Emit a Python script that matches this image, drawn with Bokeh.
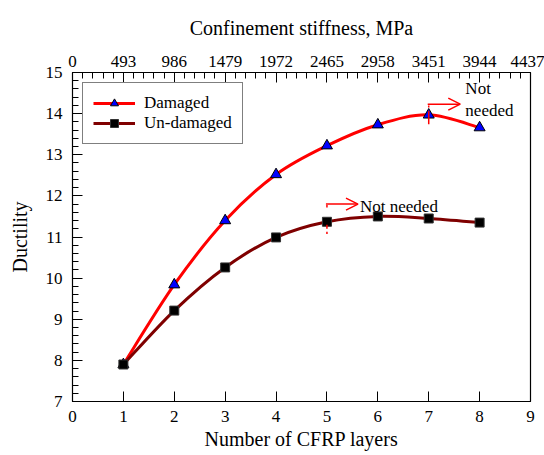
from bokeh.plotting import figure
from bokeh.models import (Range1d, LinearAxis, FixedTicker, Arrow, OpenHead,
                          Legend, LegendItem, ColumnDataSource)
from bokeh.core.properties import value
from bokeh.embed import file_html
from bokeh.resources import INLINE

# ---- data ----
layers = [1, 2, 3, 4, 5, 6, 7, 8]
damaged = [7.9, 9.84, 11.4, 12.52, 13.22, 13.73, 13.97, 13.66]
undamaged = [7.9, 9.21, 10.26, 10.99, 11.37, 11.5, 11.45, 11.35]
bottom_ticks = [0, 1, 2, 3, 4, 5, 6, 7, 8, 9]
top_ticks = [0, 493, 986, 1479, 1972, 2465, 2958, 3451, 3944, 4437]
y_ticks = [7, 8, 9, 10, 11, 12, 13, 14, 15]

FONT = "Liberation Serif"


def bezier_source(xs, ys):
    """Catmull-Rom smoothing rendered as cubic Bezier segments."""
    n = len(xs)
    d = dict(x0=[], y0=[], x1=[], y1=[], cx0=[], cy0=[], cx1=[], cy1=[])
    for i in range(n - 1):
        p0 = (xs[max(i - 1, 0)], ys[max(i - 1, 0)])
        p1 = (xs[i], ys[i])
        p2 = (xs[i + 1], ys[i + 1])
        p3 = (xs[min(i + 2, n - 1)], ys[min(i + 2, n - 1)])
        d["x0"].append(p1[0]); d["y0"].append(p1[1])
        d["x1"].append(p2[0]); d["y1"].append(p2[1])
        d["cx0"].append(p1[0] + (p2[0] - p0[0]) / 6.0)
        d["cy0"].append(p1[1] + (p2[1] - p0[1]) / 6.0)
        d["cx1"].append(p2[0] - (p3[0] - p1[0]) / 6.0)
        d["cy1"].append(p2[1] - (p3[1] - p1[1]) / 6.0)
    return ColumnDataSource(d)


p = figure(width=544, height=455, x_range=Range1d(0, 9), y_range=Range1d(7, 15),
           output_backend="svg", toolbar_location=None,
           x_axis_location=None, y_axis_location=None,
           min_border_left=72, min_border_right=14,
           min_border_top=72, min_border_bottom=54)
p.xgrid.visible = False
p.ygrid.visible = False
p.outline_line_color = "black"
p.outline_line_width = 1.2
p.background_fill_color = "white"
p.border_fill_color = "white"

p.extra_x_ranges = {"top": Range1d(0, 4437)}


def style_axis(ax):
    ax.axis_line_color = "black"
    ax.major_tick_line_color = "black"
    ax.minor_tick_line_color = "black"
    ax.major_tick_out = 0
    ax.minor_tick_out = 0
    ax.major_label_text_font = FONT
    ax.major_label_text_font_size = "17px"
    ax.major_label_text_color = "black"
    ax.axis_label_text_font = FONT
    ax.axis_label_text_font_size = "20px"
    ax.axis_label_text_font_style = "normal"
    ax.axis_label_text_color = "black"


bx = LinearAxis(ticker=FixedTicker(ticks=bottom_ticks), axis_label="Number of CFRP layers")
style_axis(bx)
bx.major_tick_in = 10
bx.minor_tick_in = 0
bx.major_label_standoff = 9
bx.axis_label_standoff = 3
p.add_layout(bx, "below")

top_minor = [t + k * 493 / 5 for t in top_ticks[:-1] for k in range(1, 5)]
tx = LinearAxis(x_range_name="top", ticker=FixedTicker(ticks=top_ticks, minor_ticks=top_minor),
                axis_label="Confinement stiffness, MPa")
style_axis(tx)
tx.major_tick_in = 10
tx.minor_tick_in = 6
tx.major_label_standoff = 6
tx.axis_label_standoff = 14
p.add_layout(tx, "above")

y_minor = [t + k * 0.2 for t in y_ticks[:-1] for k in range(1, 5)]
ly = LinearAxis(ticker=FixedTicker(ticks=y_ticks, minor_ticks=y_minor), axis_label="Ductility")
style_axis(ly)
ly.major_tick_in = 10
ly.minor_tick_in = 6
ly.major_label_standoff = 10
ly.axis_label_standoff = 12
p.add_layout(ly, "left")

# ---- curves ----
src_d = bezier_source(layers, damaged)
src_u = bezier_source(layers, undamaged)
cd = p.bezier(x0="x0", y0="y0", x1="x1", y1="y1", cx0="cx0", cy0="cy0", cx1="cx1", cy1="cy1",
              source=src_d, line_color="#ff0000", line_width=3)
cu = p.bezier(x0="x0", y0="y0", x1="x1", y1="y1", cx0="cx0", cy0="cy0", cx1="cx1", cy1="cy1",
              source=src_u, line_color="#7f0000", line_width=3)
md = p.scatter(layers, damaged, marker="triangle", size=11, fill_color="#0000ff",
               line_color="black", line_width=1)
mu = p.scatter(layers, undamaged, marker="square", size=9, fill_color="black",
               line_color="#333333", line_width=1)

# ---- annotations ----
p.add_layout(Arrow(end=OpenHead(size=12, line_color="#ff0000", line_width=1.5),
                   x_start=6.98, y_start=14.23, x_end=7.62, y_end=14.23,
                   line_color="#ff0000", line_width=1.5))
p.segment(x0=[7, 7], y0=[14.2, 14.07], x1=[7, 7], y1=[14.15, 13.74],
          line_color="#ff0000", line_width=1.5)
p.text(x=[7.72], y=[14.83], text=["Not\nneeded"], text_font=value(FONT),
       text_font_size="17px", text_baseline="top", text_align="left",
       text_color="black", text_line_height=1.15)

p.add_layout(Arrow(end=OpenHead(size=12, line_color="#ff0000", line_width=1.5),
                   x_start=4.98, y_start=11.8, x_end=5.61, y_end=11.8,
                   line_color="#ff0000", line_width=1.5))
p.segment(x0=[5, 5], y0=[11.78, 11.3], x1=[5, 5], y1=[11.72, 11.07],
          line_color="#ff0000", line_width=1.5, line_dash="4 3")
p.text(x=[5.65], y=[11.75], text=["Not needed"], text_font=value(FONT),
       text_font_size="17px", text_baseline="alphabetic", text_align="left",
       text_color="black")

# ---- legend ----
legend = Legend(items=[LegendItem(label="Damaged", renderers=[cd, md]),
                       LegendItem(label="Un-damaged", renderers=[cu, mu])],
                location="top_left", margin=10, padding=10, spacing=0,
                glyph_width=42, glyph_height=20, label_height=20, label_standoff=9,
                label_text_font=FONT, label_text_font_size="17px",
                label_text_color="black", border_line_color="black",
                border_line_width=1, background_fill_alpha=1.0)
p.add_layout(legend, "center")

open("out.html", "w").write(file_html(p, INLINE))
